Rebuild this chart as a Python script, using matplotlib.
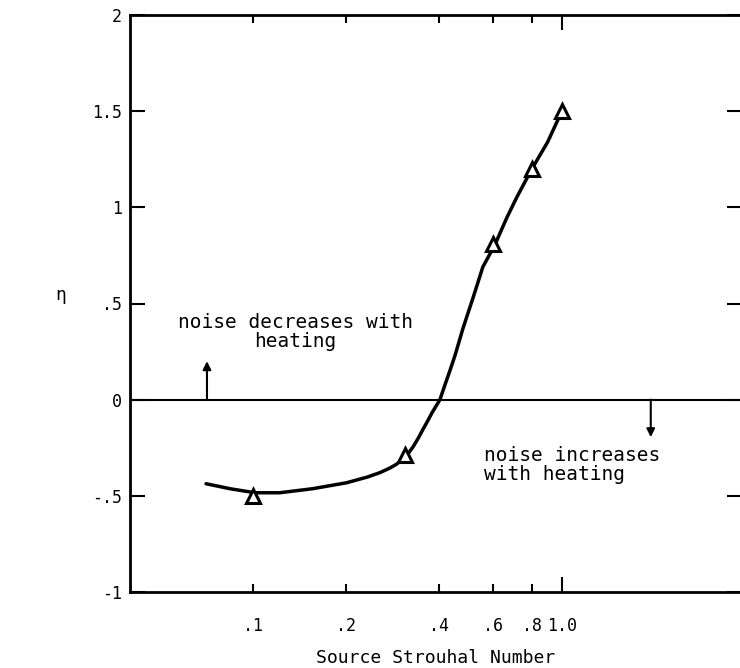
import matplotlib
matplotlib.use("Agg")
import matplotlib.pyplot as plt
from matplotlib.ticker import FixedLocator, NullLocator

# measured points (triangles)
strouhal_pts = [0.1, 0.31, 0.6, 0.8, 1.0]
eta_pts = [-0.5, -0.29, 0.81, 1.2, 1.5]

# faired curve
curve_x = [0.0705, 0.0843, 0.1015, 0.122, 0.156, 0.201, 0.235, 0.258, 0.278,
           0.292, 0.305, 0.318, 0.330, 0.343, 0.355, 0.368, 0.380, 0.392,
           0.403, 0.418, 0.434, 0.451, 0.478, 0.515, 0.555, 0.607, 0.664,
           0.715, 0.80, 0.90, 1.0]
curve_y = [-0.437, -0.463, -0.484, -0.484, -0.463, -0.432, -0.402, -0.379, -0.355,
           -0.335, -0.31, -0.28, -0.245, -0.2, -0.155, -0.11, -0.068, -0.032,
           0.0, 0.075, 0.15, 0.23, 0.368, 0.526, 0.69, 0.805, 0.947,
           1.053, 1.2, 1.34, 1.5]

x_ticks = [0.1, 0.2, 0.4, 0.6, 0.8, 1.0]
x_tick_labels = [".1", ".2", ".4", ".6", ".8", "1.0"]
y_ticks = [-1, -0.5, 0, 0.5, 1, 1.5, 2]
y_tick_labels = ["-1", "-.5", "0", ".5", "1", "1.5", "2"]

plt.rcParams['font.family'] = ['DejaVu Sans Mono', 'DejaVu Sans']

fig = plt.figure(figsize=(7.4, 6.68), dpi=100)
ax = fig.add_axes([130 / 740, 76 / 668, 612 / 740, 577 / 668])

ax.set_xscale('log')
ax.set_xlim(0.04, 3.83)
ax.set_ylim(-1, 2)

ax.axhline(0, color='black', lw=1.5)
ax.plot(curve_x, curve_y, color='black', lw=2.5, solid_capstyle='round',
        solid_joinstyle='round')
ax.plot(strouhal_pts, eta_pts, linestyle='none', marker='^', markersize=10,
        markerfacecolor='white', markeredgecolor='black', markeredgewidth=2.2)

ax.xaxis.set_major_locator(FixedLocator(x_ticks))
ax.xaxis.set_minor_locator(NullLocator())
ax.set_xticklabels(x_tick_labels)
ax.set_yticks(y_ticks)
ax.set_yticklabels(y_tick_labels)

ax.tick_params(axis='x', direction='in', top=True, bottom=True, length=6,
               width=1.5, labelsize=12, pad=18)
ax.tick_params(axis='y', direction='in', left=True, right=True, length=11,
               width=1.5, labelsize=12, pad=6)
for t in ax.xaxis.get_major_ticks()[-1:]:
    t.tick1line.set_markersize(11)
    t.tick2line.set_markersize(11)

for s in ax.spines.values():
    s.set_linewidth(2)

ax.set_xlabel("Source Strouhal Number", fontsize=13, labelpad=10)
ax.set_ylabel("η", fontsize=13, rotation=0, labelpad=22)

ax.text(0.137, 0.35, "noise decreases with\nheating", ha='center', va='center',
        fontsize=14, linespacing=1.0)
ax.annotate('', xy=(0.071, 0.2), xytext=(0.071, 0),
            arrowprops=dict(arrowstyle='-|>', color='black', lw=1.5,
                            mutation_scale=12, shrinkA=0, shrinkB=0))

ax.text(0.56, -0.34, "noise increases\nwith heating", ha='left', va='center',
        fontsize=14, linespacing=1.0)
ax.annotate('', xy=(1.94, -0.195), xytext=(1.94, 0),
            arrowprops=dict(arrowstyle='-|>', color='black', lw=1.5,
                            mutation_scale=12, shrinkA=0, shrinkB=0))

fig.savefig("out.png", dpi=100)
